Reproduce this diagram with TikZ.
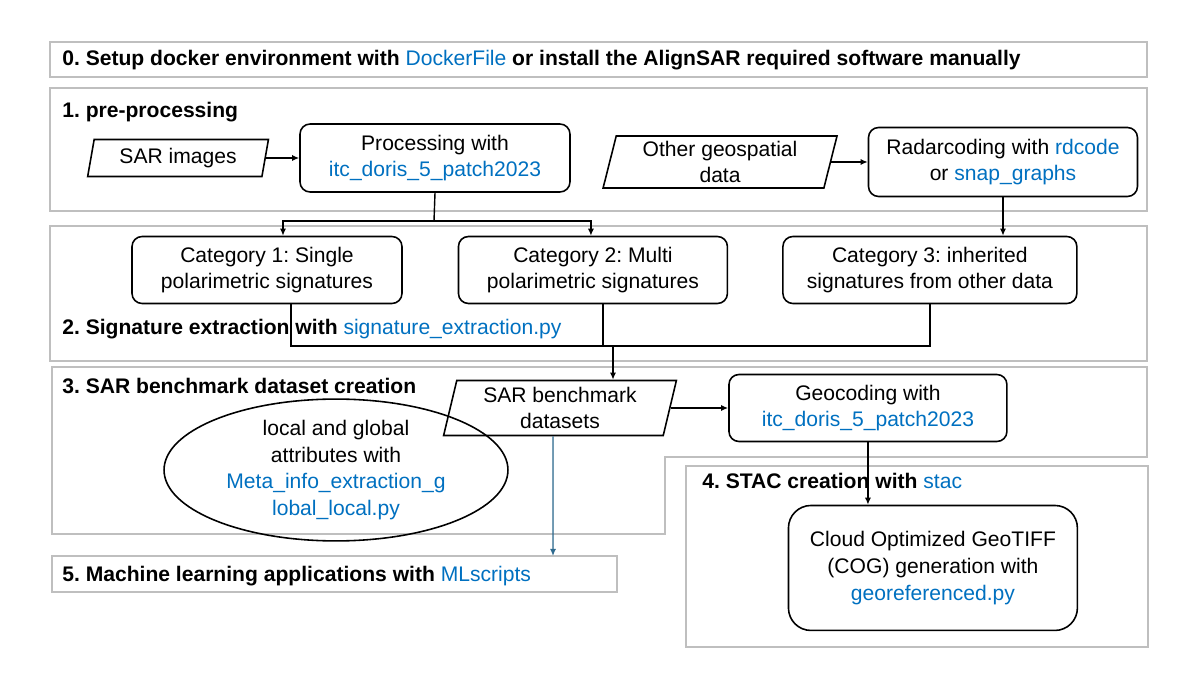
\documentclass[tikz,border=0pt]{standalone}
\usepackage{fontspec}
\setmainfont{Liberation Sans}
\usepackage{tikz}
\usetikzlibrary{positioning,shapes.geometric,arrows.meta}
\definecolor{linkblue}{HTML}{0070C0}
\definecolor{panelgray}{HTML}{BFBFBF}
\definecolor{mlblue}{HTML}{2E6A8F}
\newcommand{\lnk}[1]{\textcolor{linkblue}{#1}}
\frenchspacing

\begin{document}
\begin{tikzpicture}[x=0.02cm,y=-0.02cm,
    panel/.style={draw=panelgray, line width=1.6pt},
    title/.style={anchor=west, inner sep=0pt, font=\fontsize{12}{14.4}\selectfont\bfseries},
    procbox/.style={draw, rounded corners=0.2cm, line width=0.9pt, align=center, inner sep=0pt, font=\fontsize{12}{15.3}\selectfont},
    databox/.style={draw, trapezium, trapezium left angle=77, trapezium right angle=103, trapezium stretches=true, line width=0.9pt, align=center, inner sep=0pt, font=\fontsize{12}{15.3}\selectfont},
    link/.style={-{Latex[length=4pt,width=3.5pt]}, line width=0.8pt}]
        \useasboundingbox (0,0) rectangle (1200,675);

        \draw [panel] (50,42) rectangle (1147,77);
        \draw [panel] (50,88) rectangle (1147,211);
        \draw [panel] (50,226) rectangle (1147,361);
        \draw [panel] (52,367) -- (1147,367) -- (1147,457) -- (665,457) -- (665,534) -- (52,534) -- cycle;
        \draw [panel] (686,466) rectangle (1148,647);
        \draw [panel] (52,556) rectangle (617,592);

        \node [title] (T0) at (62,60) {0. Setup docker environment with \lnk{\mdseries DockerFile} or install the AlignSAR required software manually};
        \node [title] (T1) at (62,112) {1. pre-processing};
        \node [title] (T2) at (62,329) {2. Signature extraction with \lnk{\mdseries signature\_extraction.py}};
        \node [title] (T3) at (62,386) {3. SAR benchmark dataset creation};
        \node [title] (T4) at (702,481) {4. STAC creation with \lnk{\mdseries stac}};
        \node [title] (T5) at (62,576) {5. Machine learning applications with \lnk{\mdseries MLscripts}};

        \node [procbox, minimum width=5.4cm, minimum height=1.36cm] (Proc) at (435,158) {Processing with\\\lnk{itc\_doris\_5\_patch2023}};
        \node [databox, on grid, left=5.14cm of Proc, minimum width=3.62cm, minimum height=0.74cm] (SARImg) {SAR images};
        \node [procbox, minimum width=5.38cm, minimum height=1.38cm] (Radar) at (1003,162) {Radarcoding with \lnk{rdcode}\\or \lnk{snap\_graphs}};
        \node [databox, on grid, left=5.66cm of Radar, minimum width=4.72cm, minimum height=1.04cm] (Geo) {Other geospatial\\data};

        \node [procbox, minimum width=5.4cm, minimum height=1.34cm] (Cat1) at (267,270) {Category 1: Single\\polarimetric signatures};
        \node [procbox, on grid, right=6.52cm of Cat1, minimum width=5.38cm, minimum height=1.34cm] (Cat2) {Category 2: Multi\\polarimetric signatures};
        \node [procbox, on grid, right=6.74cm of Cat2, minimum width=5.88cm, minimum height=1.34cm] (Cat3) {Category 3: inherited\\signatures from other data};

        \node [databox, minimum width=4.68cm, minimum height=1.1cm] (Bench) at (560,408) {SAR benchmark\\datasets};
        \node [procbox, on grid, right=6.16cm of Bench, minimum width=5.56cm, minimum height=1.34cm] (Geocode) {Geocoding with\\\lnk{itc\_doris\_5\_patch2023}};
        \node [draw, ellipse, line width=0.9pt, align=center, inner sep=0pt, minimum width=6.88cm, minimum height=2.28cm, font=\fontsize{12}{15.3}\selectfont] (Attr) at (336,470) {local and global\\attributes with\\\lnk{Meta\_info\_extraction\_g}\\\lnk{lobal\_local.py}};
        \node [procbox, rounded corners=0.45cm, on grid, below right=3.2cm and 1.3cm of Geocode, minimum width=5.78cm, minimum height=2.5cm] (COG) {Cloud Optimized GeoTIFF\\(COG) generation with\\\lnk{georeferenced.py}};

        \coordinate (Split) at (434,221);
        \coordinate (Merge) at (613,346);
        \coordinate (MLIn) at (553,556);

        \draw [link] (SARImg.east) to (Proc.west |- SARImg.east);
        \draw [link] (Geo.east) to (Radar.west |- Geo.east);
        \draw [line width=0.8pt] (Proc.south) to (Split);
        \draw [link] (Split) -| ([xshift=0.32cm]Cat1.north);
        \draw [link] (Split) -| ([xshift=-0.04cm]Cat2.north);
        \draw [link] (Radar.south) to (Radar.south |- Cat3.north);
        \draw [line width=0.8pt] ([xshift=0.48cm]Cat1.south) |- (Cat3.south |- Merge) to (Cat3.south);
        \draw [line width=0.8pt] ([xshift=0.2cm]Cat2.south) to ([xshift=0.2cm]Cat2.south |- Merge);
        \draw [link] (Merge) to (Merge |- Bench.north);
        \draw [link] (Bench.east) to (Geocode.west |- Bench.east);
        \draw [link] (Geocode.south) to (Geocode.south |- COG.north);
        \draw [link, draw=mlblue, fill=mlblue] ([xshift=-0.14cm]Bench.south) to (MLIn);
      \end{tikzpicture}
\end{document}
